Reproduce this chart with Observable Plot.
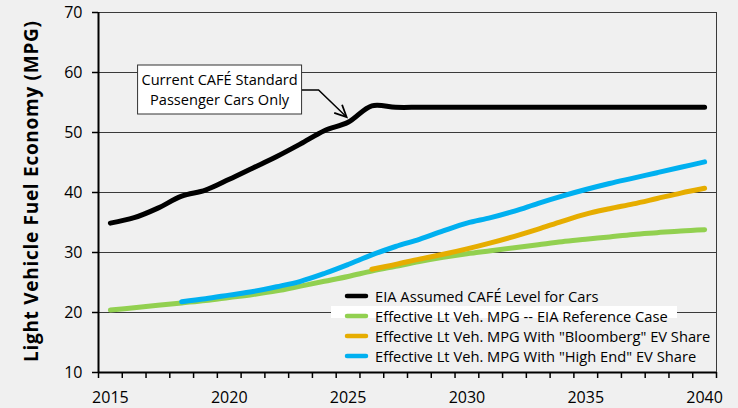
<!DOCTYPE html>
<html><head><meta charset="utf-8">
<script src="https://cdn.jsdelivr.net/npm/d3@7"></script>
<script src="https://cdn.jsdelivr.net/npm/@observablehq/plot@0.6"></script>
<style>
html,body{margin:0;padding:0;background:#f0f0f0;}
svg{display:block}
</style></head><body><div id="chart"></div>
<script>
// ---- data ----
const years = [2015,2016,2017,2018,2019,2020,2021,2022,2023,2024,2025,2026,2027,2028,2029,2030,2031,2032,2033,2034,2035,2036,2037,2038,2039,2040];
const cafeCars = [34.9,35.8,37.4,39.4,40.4,42.2,44.1,46.0,48.1,50.3,51.7,54.45,54.2,54.2,54.2,54.2,54.2,54.2,54.2,54.2,54.2,54.2,54.2,54.2,54.2,54.2];
const eiaReference = [20.4,20.8,21.2,21.6,22.0,22.5,23.0,23.6,24.4,25.2,26.0,26.9,27.7,28.5,29.2,29.8,30.3,30.8,31.3,31.8,32.2,32.6,33.0,33.3,33.6,33.8];
const highEndYears = [2018,2019,2020,2021,2022,2023,2024,2025,2026,2027,2028,2029,2030,2031,2032,2033,2034,2035,2036,2037,2038,2039,2040];
const highEnd = [21.8,22.3,22.9,23.5,24.3,25.2,26.5,28.0,29.6,31.0,32.2,33.6,34.9,35.8,36.9,38.2,39.4,40.5,41.5,42.4,43.3,44.2,45.1];
const bloombergYears = [2026,2027,2028,2029,2030,2031,2032,2033,2034,2035,2036,2037,2038,2039,2040];
const bloomberg = [27.2,28.0,28.9,29.7,30.6,31.6,32.7,33.9,35.2,36.4,37.3,38.1,39.0,39.9,40.7];

const seriesNames = [
  "EIA Assumed CAFÉ Level for Cars",
  "Effective Lt Veh. MPG -- EIA Reference Case",
  "Effective Lt Veh. MPG With \"Bloomberg\" EV Share",
  "Effective Lt Veh. MPG With \"High End\" EV Share"
];
const seriesColors = ["#000000", "#92d050", "#e6ad00", "#00b0f0"];
const yTicks = [10,20,30,40,50,60,70];
const xLabelTicks = [2015,2020,2025,2030,2035,2040];
const xBoundaryTicks = [2014.5,2015.5,2016.5,2017.5,2018.5,2019.5,2020.5,2021.5,2022.5,2023.5,2024.5,2025.5,2026.5,2027.5,2028.5,2029.5,2030.5,2031.5,2032.5,2033.5,2034.5,2035.5,2036.5,2037.5,2038.5,2039.5,2040.5];
const yTitle = "Light Vehicle Fuel Economy (MPG)";
const annotationLines = ["Current CAFÉ Standard", "Passenger Cars Only"];
const annotationPoint = {year: 2025, value: 52.5};

// ---- table ----
const rows = [];
const add = (name, xs, vs) => xs.forEach((yr, i) => rows.push({series: name, year: yr, value: vs[i]}));
add(seriesNames[0], years, cafeCars);
add(seriesNames[1], years, eiaReference);
add(seriesNames[2], bloombergYears, bloomberg);
add(seriesNames[3], highEndYears, highEnd);
const drawOrder = [seriesNames[0], seriesNames[1], seriesNames[3], seriesNames[2]];

const FONT = "Open Sans";
const chart = Plot.plot({
  width: 738, height: 408,
  marginLeft: 98, marginRight: 22, marginTop: 12, marginBottom: 36,
  style: {background: "#f0f0f0", fontFamily: FONT, fontSize: "16px", color: "#000", overflow: "visible"},
  x: {domain: [2014.5, 2040.5]},
  y: {domain: [10, 70]},
  color: {domain: seriesNames, range: seriesColors},
  marks: [
    Plot.gridY(yTicks.slice(1), {stroke: "#3a3a3a", strokeOpacity: 1, strokeWidth: 1}),
    Plot.ruleX([2040.5], {stroke: "#3a3a3a", strokeWidth: 1}),
    Plot.axisY({ticks: yTicks, tickSize: 6, tickPadding: 10, label: null, fontSize: 16, strokeWidth: 1.5}),
    Plot.axisX({ticks: xBoundaryTicks, tickSize: 6, tickFormat: () => "", label: null, strokeWidth: 1.5}),
    Plot.axisX({ticks: xLabelTicks, tickSize: 0, tickPadding: 19, tickFormat: d => String(d), label: null, fontSize: 16}),
    Plot.ruleY([10], {stroke: "#000", strokeWidth: 2}),
    Plot.ruleX([2014.5], {stroke: "#000", strokeWidth: 2}),
    ...drawOrder.map(name => Plot.line(rows.filter(r => r.series === name), {
      x: "year", y: "value", stroke: "series", strokeWidth: 5, curve: "catmull-rom",
      strokeLinecap: "round", strokeLinejoin: "round"
    }))
  ]
});
document.getElementById("chart").appendChild(chart);

const svg = d3.select(chart);
const xs = chart.scale("x"), ys = chart.scale("y");

// y-axis title
svg.append("text")
  .attr("transform", `translate(31,${(21 + 362) / 2}) rotate(-90)`)
  .attr("text-anchor", "middle").attr("dominant-baseline", "central")
  .attr("font-family", FONT).attr("font-weight", "bold").attr("font-size", 19)
  .attr("textLength", 341).attr("lengthAdjust", "spacing")
  .attr("fill", "#000").text(yTitle);

// annotation
const tx = xs.apply(annotationPoint.year) - 1, ty = ys.apply(annotationPoint.value);
const ann = svg.append("g");
ann.append("path")
  .attr("d", `M${tx - 45},${ty - 27}L${tx - 28},${ty - 27}L${tx},${ty}`)
  .attr("fill", "none").attr("stroke", "#000").attr("stroke-width", 1.5);
const ang = Math.atan2(27, 28);
const L = 13, spread = 0.45;
const a1 = ang + Math.PI - spread, a2 = ang + Math.PI + spread;
ann.append("path")
  .attr("d", `M${tx + L * Math.cos(a1)},${ty + L * Math.sin(a1)}L${tx},${ty}L${tx + L * Math.cos(a2)},${ty + L * Math.sin(a2)}`)
  .attr("fill", "none").attr("stroke", "#000").attr("stroke-width", 1.8);
ann.append("rect")
  .attr("x", tx - 209).attr("y", ty - 52).attr("width", 164).attr("height", 49)
  .attr("fill", "#fff").attr("stroke", "#333").attr("stroke-width", 1);
annotationLines.forEach((t, i) => ann.append("text")
  .attr("x", tx - 127).attr("y", ty - 38 + i * 20)
  .attr("text-anchor", "middle").attr("dominant-baseline", "central")
  .attr("font-family", FONT).attr("font-size", 14.6).attr("fill", "#000").text(t));

// legend
const lg = svg.append("g");
lg.append("rect").attr("x", 331).attr("y", 306).attr("width", 346).attr("height", 12).attr("fill", "#fff");
seriesNames.forEach((name, i) => {
  const cy = 296 + i * 20;
  lg.append("line").attr("x1", 347).attr("x2", 366).attr("y1", cy).attr("y2", cy)
    .attr("stroke", seriesColors[i]).attr("stroke-width", 4.5).attr("stroke-linecap", "round");
  lg.append("text").attr("x", 375).attr("y", cy).attr("dominant-baseline", "central")
    .attr("text-anchor", "start")
    .attr("font-family", FONT).attr("font-size", 14.7).attr("fill", "#000").text(name);
});
</script></body></html>
